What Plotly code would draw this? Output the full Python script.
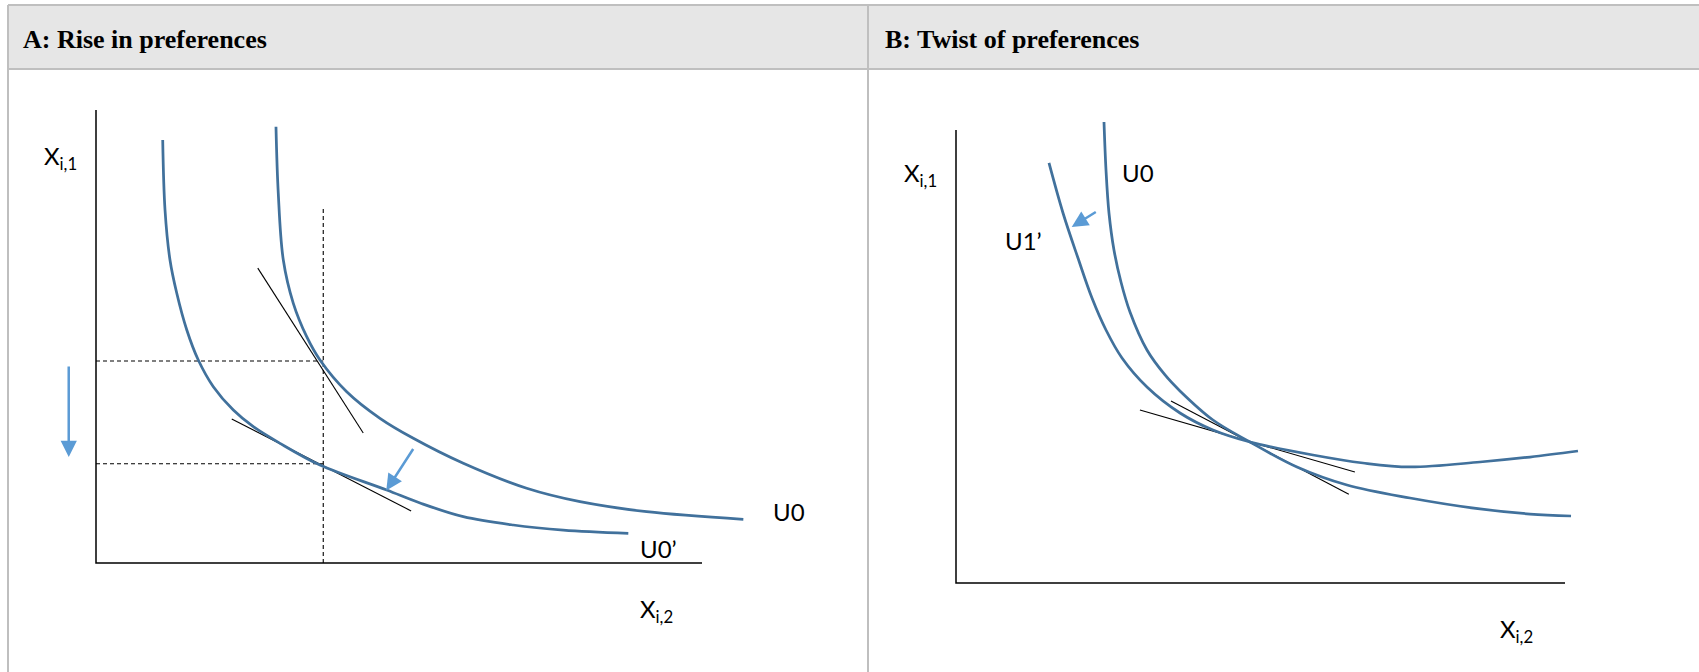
import plotly.graph_objects as go

W, H = 1699, 672

# ---------------- Panel A data (axis units: 0..100 along each drawn axis) ----------------
a_u0_x = [29.70, 30.08, 30.91, 32.56, 34.77, 36.96, 41.37, 46.86, 52.36, 60.61, 71.07, 79.87, 90.87, 106.82]
a_u0_y = [96.31, 81.61, 66.89, 57.33, 49.96, 44.81, 37.81, 31.94, 27.53, 22.01, 16.49, 13.53, 11.32, 9.65]
a_u0p_x = [11.01, 11.39, 12.21, 13.32, 14.97, 16.88, 19.36, 22.66, 25.96, 30.36, 36.96, 47.97, 53.47, 60.61, 68.86, 77.11, 87.84]
a_u0p_y = [93.38, 77.92, 66.89, 59.60, 51.50, 44.81, 38.92, 33.77, 30.09, 26.42, 21.63, 16.11, 13.25, 10.22, 8.39, 7.28, 6.56]
a_axis_x = [0, 0, 100]
a_axis_y = [100, 0, 0]
a_tan1_x = [26.7, 44.1]
a_tan1_y = [65.1, 28.7]
a_tan2_x = [22.4, 52.0]
a_tan2_y = [31.8, 11.5]
a_point_x = 37.5
a_vline_top = 78.4
a_hlevels = [44.6, 21.9]
a_arrows = [  # tail_x, tail_y, tip_x, tip_y
    (-4.5, 43.7, -4.5, 23.4),
    (52.5, 25.5, 47.9, 16.0),
]
a_labels = [  # text, x, y
    ("X<sub>i,1</sub>", -8.9, 89.6),
    ("X<sub>i,2</sub>", 89.4, -10.4),
    ("U0", 111.4, 11.3),
    ("U0’", 89.4, 3.3),
]

# ---------------- Panel B data ----------------
b_u0_x = [24.30, 24.63, 25.12, 25.94, 27.09, 28.57, 31.36, 34.32, 36.78, 42.20, 48.28, 55.99, 64.20, 74.55, 86.04, 94.25, 100.99]
b_u0_y = [101.77, 91.17, 81.68, 73.51, 66.45, 59.82, 51.43, 45.92, 42.40, 35.98, 31.13, 25.61, 21.63, 18.76, 16.34, 15.23, 14.79]
b_u1_x = [15.27, 17.57, 20.03, 22.33, 24.63, 27.26, 31.36, 36.78, 42.20, 48.28, 58.62, 66.83, 74.55, 86.04, 94.25, 102.13]
b_u1_y = [92.72, 81.68, 71.74, 62.91, 55.85, 49.67, 43.27, 37.53, 33.77, 31.13, 28.26, 26.49, 25.61, 26.71, 27.81, 29.14]
b_axis_x = [0, 0, 100]
b_axis_y = [100, 0, 0]
b_tanflat_x = [30.2, 65.5]
b_tanflat_y = [38.2, 24.5]
b_tansteep_x = [35.3, 64.5]
b_tansteep_y = [40.2, 19.6]
b_arrows = [(23.2, 82.1, 19.0, 78.6)]
b_labels = [
    ("X<sub>i,1</sub>", -8.9, 90.1),
    ("X<sub>i,2</sub>", 89.0, -10.4),
    ("U0", 26.9, 90.7),
    ("U1’", 7.8, 75.7),
]

titles = ["A: Rise in preferences", "B: Twist of preferences"]

# ---------------- layout geometry (pixels) ----------------
HEAD_TOP, HEAD_BOT = 5, 69
LEFT_BORDER, DIVIDER = 8, 868
A_OX, A_OY, A_SX, A_SY = 96, 563, 6.06, 4.53
B_OX, B_OY, B_SX, B_SY = 956, 583, 6.09, 4.53

CURVE = "#41719C"
ARROW = "#5B9BD5"
SANS = "Lato, 'Liberation Sans', sans-serif"

fig = go.Figure()

def add_line(x, y, xa, ya, color, width, dash=None, shape="linear"):
    fig.add_trace(go.Scatter(x=x, y=y, mode="lines", xaxis=xa, yaxis=ya,
                             line=dict(color=color, width=width, dash=dash, shape=shape, smoothing=1.0),
                             hoverinfo="skip", showlegend=False))

# Panel A
add_line(a_axis_x, a_axis_y, "x", "y", "black", 1.5)
add_line([a_point_x, a_point_x], [0, a_vline_top], "x", "y", "black", 1.1, dash="4px,3px")
for lv in a_hlevels:
    add_line([0, a_point_x], [lv, lv], "x", "y", "black", 1.1, dash="4px,3px")
add_line(a_tan1_x, a_tan1_y, "x", "y", "black", 1.1)
add_line(a_tan2_x, a_tan2_y, "x", "y", "black", 1.1)
add_line(a_u0_x, a_u0_y, "x", "y", CURVE, 2.75, shape="spline")
add_line(a_u0p_x, a_u0p_y, "x", "y", CURVE, 2.75, shape="spline")

# Panel B
add_line(b_axis_x, b_axis_y, "x2", "y2", "black", 1.5)
add_line(b_tanflat_x, b_tanflat_y, "x2", "y2", "black", 1.1)
add_line(b_tansteep_x, b_tansteep_y, "x2", "y2", "black", 1.1)
add_line(b_u0_x, b_u0_y, "x2", "y2", CURVE, 2.75, shape="spline")
add_line(b_u1_x, b_u1_y, "x2", "y2", CURVE, 2.75, shape="spline")

annotations = []
for (ax_, ay_, x_, y_), (xr, yr) in [(a, ("x", "y")) for a in a_arrows] + [(b, ("x2", "y2")) for b in b_arrows]:
    annotations.append(dict(x=x_, y=y_, ax=ax_, ay=ay_, xref=xr, yref=yr, axref=xr, ayref=yr,
                            text="", showarrow=True, arrowhead=2, arrowsize=1.3, arrowwidth=2.5,
                            arrowcolor=ARROW, standoff=0))
for labels, (xr, yr) in [(a_labels, ("x", "y")), (b_labels, ("x2", "y2"))]:
    for t, x_, y_ in labels:
        annotations.append(dict(x=x_, y=y_, xref=xr, yref=yr, text=t, showarrow=False,
                                xanchor="left", yanchor="middle",
                                font=dict(family=SANS, size=24, color="black")))

# Header titles
for txt, px in zip(titles, [21, 883]):
    annotations.append(dict(x=px / W, y=1 - 39 / H, xref="paper", yref="paper", text="<b>%s</b>" % txt,
                            showarrow=False, xanchor="left", yanchor="middle",
                            font=dict(family="'Liberation Serif', serif", size=26, color="black")))

BORDER = "#BFBFBF"
shapes = [
    dict(type="rect", xref="paper", yref="paper", x0=LEFT_BORDER / W, x1=1, y0=1 - HEAD_BOT / H, y1=1 - HEAD_TOP / H,
         fillcolor="#E6E6E6", line=dict(width=0), layer="below"),
    dict(type="line", xref="paper", yref="paper", x0=LEFT_BORDER / W, x1=1, y0=1 - HEAD_TOP / H, y1=1 - HEAD_TOP / H,
         line=dict(color=BORDER, width=2)),
    dict(type="line", xref="paper", yref="paper", x0=LEFT_BORDER / W, x1=1, y0=1 - HEAD_BOT / H, y1=1 - HEAD_BOT / H,
         line=dict(color=BORDER, width=2)),
    dict(type="line", xref="paper", yref="paper", x0=LEFT_BORDER / W, x1=LEFT_BORDER / W, y0=0, y1=1 - HEAD_TOP / H,
         line=dict(color=BORDER, width=2)),
    dict(type="line", xref="paper", yref="paper", x0=DIVIDER / W, x1=DIVIDER / W, y0=0, y1=1 - HEAD_TOP / H,
         line=dict(color=BORDER, width=2)),
]

dom_top = 1 - HEAD_BOT / H
hidden = dict(visible=False, showgrid=False, zeroline=False, fixedrange=True)
fig.update_layout(
    width=W, height=H, autosize=False,
    margin=dict(l=0, r=0, t=0, b=0),
    paper_bgcolor="white", plot_bgcolor="rgba(0,0,0,0)",
    xaxis=dict(domain=[0, DIVIDER / W], range=[-A_OX / A_SX, (DIVIDER - A_OX) / A_SX], **hidden),
    yaxis=dict(domain=[0, dom_top], range=[(A_OY - H) / A_SY, (A_OY - HEAD_BOT) / A_SY], **hidden),
    xaxis2=dict(domain=[DIVIDER / W, 1], range=[(DIVIDER - B_OX) / B_SX, (W - B_OX) / B_SX], **hidden),
    yaxis2=dict(domain=[0, dom_top], range=[(B_OY - H) / B_SY, (B_OY - HEAD_BOT) / B_SY], **hidden),
    annotations=annotations,
    shapes=shapes,
    showlegend=False,
)

fig.write_html("out.html", config={"displayModeBar": False, "staticPlot": True},
               post_script="document.body.style.margin='0';document.body.style.overflow='hidden';")
